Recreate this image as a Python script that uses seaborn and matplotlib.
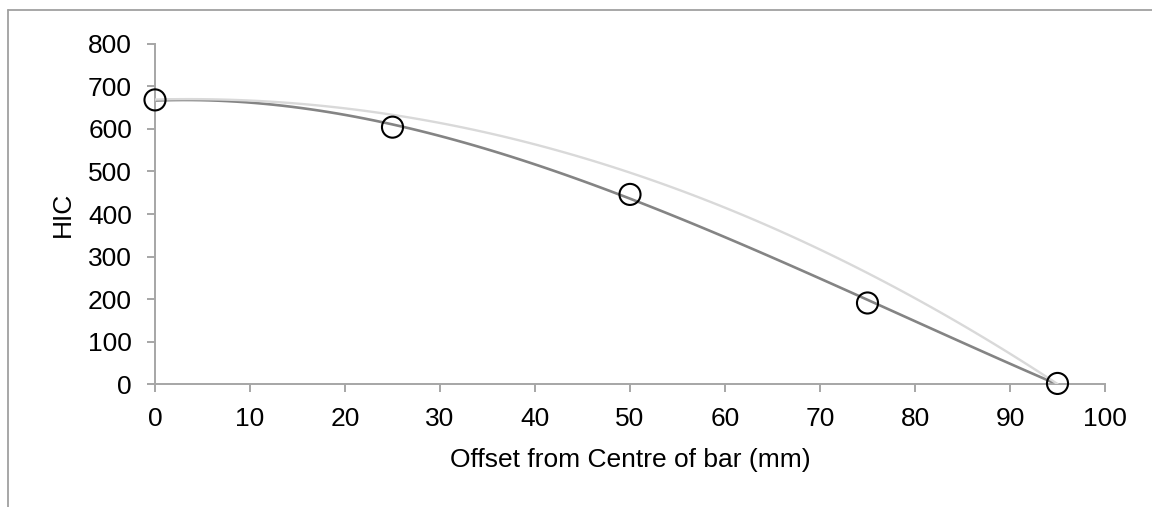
import numpy as np
import pandas as pd
import matplotlib
matplotlib.use("Agg")
import matplotlib.pyplot as plt
import seaborn as sns
from matplotlib.lines import Line2D

# Data
offset_mm = [0, 25, 50, 75, 95]
hic_measured = [668, 604, 446, 191, 2]
hic_trend = [670, 630, 499, 262, 0]

x_ticks = [0, 10, 20, 30, 40, 50, 60, 70, 80, 90, 100]
y_ticks = [0, 100, 200, 300, 400, 500, 600, 700, 800]

sns.set_theme(style="white")
plt.rcParams["font.family"] = ["Liberation Sans", "DejaVu Sans"]

fig = plt.figure(figsize=(11.52, 5.07), dpi=100)
ax = fig.add_axes([155 / 1152, 1 - 384.3 / 507, (1105 - 155) / 1152, (384.3 - 43.7) / 507])

df_meas = pd.DataFrame({"x": offset_mm, "y": hic_measured})
df_trend = pd.DataFrame({"x": offset_mm, "y": hic_trend})

# polynomial trendlines (as in the spreadsheet chart)
sns.regplot(data=df_meas, x="x", y="y", ax=ax, order=3, ci=None, scatter=False,
            line_kws={"color": "#848484", "linewidth": 1.9, "zorder": 2})
sns.regplot(data=df_trend, x="x", y="y", ax=ax, order=2, ci=None, scatter=False,
            line_kws={"color": "#d9d9d9", "linewidth": 1.7, "zorder": 3})
sns.scatterplot(data=df_meas, x="x", y="y", ax=ax, s=230, marker="o",
                facecolor="none", edgecolor="black", linewidth=1.5, zorder=4, clip_on=False)

ax.set_xlim(0, 100)
ax.set_ylim(0, 800)
ax.set_xticks(x_ticks)
ax.set_yticks(y_ticks)
ax.set_xticklabels([str(v) for v in x_ticks])
ax.set_yticklabels([str(v) for v in y_ticks])

for s in ["top", "right"]:
    ax.spines[s].set_visible(False)
for s in ["left", "bottom"]:
    ax.spines[s].set_color("#a6a6a6")
    ax.spines[s].set_linewidth(1.4)

ax.tick_params(axis="both", which="major", direction="out", length=5.5, width=1.4,
               color="#a6a6a6", labelsize=19, labelcolor="black", left=True, bottom=True)
ax.tick_params(axis="y", pad=11)
ax.tick_params(axis="x", pad=11)

ax.set_xlabel("Offset from Centre of bar (mm)", fontsize=19, color="black")
ax.set_ylabel("HIC", fontsize=19, color="black")
ax.yaxis.set_label_coords(-(155 - 63) / 950, 0.5)
ax.xaxis.set_label_coords(0.5, -(460 - 384.3) / 340.6)
ax.xaxis.label.set_va("center")
ax.yaxis.label.set_va("center")

# outer chart border (partially visible, as in the reference)
fig.add_artist(Line2D([8 / 1152, 1.01], [1 - 10 / 507, 1 - 10 / 507], transform=fig.transFigure,
                      color="#a0a0a0", linewidth=1.3))
fig.add_artist(Line2D([8 / 1152, 8 / 1152], [1 - 10 / 507, -0.01], transform=fig.transFigure,
                      color="#a0a0a0", linewidth=1.3))

fig.savefig("out.png", dpi=100, facecolor="white")
